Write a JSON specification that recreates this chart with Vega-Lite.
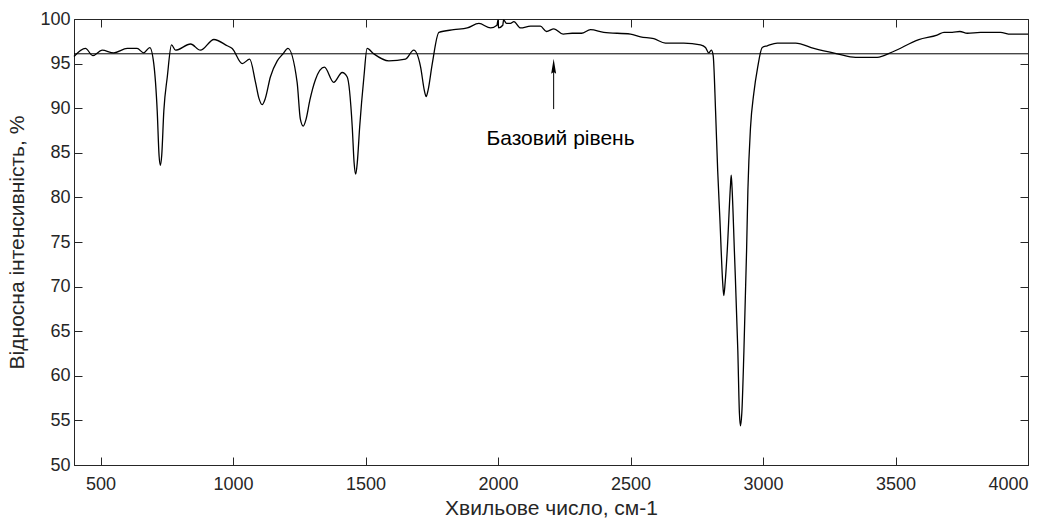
{
  "$schema": "https://vega.github.io/schema/vega-lite/v6.json",
  "width": 954,
  "height": 446,
  "autosize": {"type": "none"},
  "padding": {"left": 74, "top": 19, "right": 28, "bottom": 56},
  "background": "white",
  "config": {
    "font": "Liberation Sans",
    "view": {"stroke": "#262626", "strokeWidth": 1},
    "axis": {
      "grid": false,
      "domainColor": "#262626",
      "tickColor": "#262626",
      "labelColor": "#262626",
      "titleColor": "#262626",
      "labelFont": "Liberation Sans",
      "titleFont": "Liberation Sans",
      "labelFontSize": 18,
      "titleFontSize": 21,
      "titleFontWeight": "normal",
      "tickSize": -8,
      "tickWidth": 1,
      "domainWidth": 1
    }
  },
  "datasets": {
    "spectrum": [
      {"w": 400, "v": 95.8}, {"w": 443, "v": 96.7}, {"w": 471, "v": 95.9}, {"w": 506, "v": 96.5},
      {"w": 550, "v": 96.2}, {"w": 601, "v": 96.7}, {"w": 638, "v": 96.7}, {"w": 663, "v": 96.2},
      {"w": 686, "v": 96.8}, {"w": 701, "v": 95.0}, {"w": 714, "v": 89.7}, {"w": 721, "v": 84.7}, {"w": 726, "v": 83.6},
      {"w": 731, "v": 84.7}, {"w": 739, "v": 89.7}, {"w": 752, "v": 93.5}, {"w": 768, "v": 97.1}, {"w": 783, "v": 96.5},
      {"w": 840, "v": 97.2}, {"w": 877, "v": 96.5}, {"w": 928, "v": 97.7}, {"w": 978, "v": 97.0},
      {"w": 997, "v": 96.7}, {"w": 1035, "v": 95.0}, {"w": 1063, "v": 95.5}, {"w": 1085, "v": 92.9},
      {"w": 1098, "v": 91.1}, {"w": 1110, "v": 90.4}, {"w": 1122, "v": 91.1}, {"w": 1141, "v": 93.5}, {"w": 1167, "v": 95.3}, {"w": 1189, "v": 96.1},
      {"w": 1207, "v": 96.7}, {"w": 1242, "v": 92.9}, {"w": 1254, "v": 88.8}, {"w": 1265, "v": 88.0}, {"w": 1276, "v": 88.8}, {"w": 1290, "v": 90.9},
      {"w": 1311, "v": 93.2}, {"w": 1345, "v": 94.6}, {"w": 1380, "v": 92.9}, {"w": 1412, "v": 94.0},
      {"w": 1431, "v": 93.5}, {"w": 1450, "v": 87.9}, {"w": 1457, "v": 83.9}, {"w": 1463, "v": 82.6}, {"w": 1469, "v": 83.9}, {"w": 1478, "v": 87.9},
      {"w": 1494, "v": 93.5}, {"w": 1506, "v": 96.7}, {"w": 1531, "v": 96.1}, {"w": 1588, "v": 95.3},
      {"w": 1651, "v": 95.5}, {"w": 1682, "v": 96.5}, {"w": 1708, "v": 94.6}, {"w": 1722, "v": 92.0}, {"w": 1729, "v": 91.3},
      {"w": 1736, "v": 92.0}, {"w": 1752, "v": 95.0}, {"w": 1777, "v": 98.5}, {"w": 1833, "v": 98.8}, {"w": 1884, "v": 99.0},
      {"w": 1928, "v": 99.5}, {"w": 1972, "v": 99.0}, {"w": 1996, "v": 99.3}, {"w": 2000, "v": 99.9},
      {"w": 2002, "v": 99.0}, {"w": 2018, "v": 99.3}, {"w": 2021, "v": 99.9}, {"w": 2032, "v": 99.5},
      {"w": 2047, "v": 99.5}, {"w": 2060, "v": 99.7}, {"w": 2085, "v": 99.0}, {"w": 2123, "v": 99.2},
      {"w": 2160, "v": 99.2}, {"w": 2183, "v": 98.6}, {"w": 2211, "v": 98.9}, {"w": 2246, "v": 98.3},
      {"w": 2280, "v": 98.4}, {"w": 2315, "v": 98.4}, {"w": 2349, "v": 98.8}, {"w": 2399, "v": 98.5},
      {"w": 2500, "v": 98.3}, {"w": 2538, "v": 98.0}, {"w": 2588, "v": 97.8}, {"w": 2632, "v": 97.3},
      {"w": 2701, "v": 97.3}, {"w": 2764, "v": 97.1}, {"w": 2783, "v": 96.8}, {"w": 2795, "v": 96.2},
      {"w": 2805, "v": 96.5}, {"w": 2812, "v": 95.9}, {"w": 2821, "v": 89.7}, {"w": 2829, "v": 83.0},
      {"w": 2837, "v": 77.8}, {"w": 2848, "v": 70.4}, {"w": 2852, "v": 69.0}, {"w": 2857, "v": 70.4}, {"w": 2865, "v": 74.0},
      {"w": 2877, "v": 81.2}, {"w": 2880, "v": 82.5}, {"w": 2883, "v": 81.2},
      {"w": 2892, "v": 74.0}, {"w": 2905, "v": 62.8}, {"w": 2911, "v": 55.8}, {"w": 2915, "v": 54.4}, {"w": 2920, "v": 55.8}, {"w": 2928, "v": 62.8},
      {"w": 2938, "v": 74.0}, {"w": 2943, "v": 80.8}, {"w": 2953, "v": 87.9}, {"w": 2965, "v": 91.6},
      {"w": 2980, "v": 94.6}, {"w": 2997, "v": 96.8}, {"w": 3016, "v": 97.0}, {"w": 3054, "v": 97.3},
      {"w": 3123, "v": 97.3}, {"w": 3192, "v": 96.7}, {"w": 3280, "v": 96.1}, {"w": 3349, "v": 95.7},
      {"w": 3431, "v": 95.7}, {"w": 3488, "v": 96.3}, {"w": 3588, "v": 97.7}, {"w": 3657, "v": 98.2},
      {"w": 3683, "v": 98.5}, {"w": 3714, "v": 98.5}, {"w": 3743, "v": 98.6}, {"w": 3771, "v": 98.4},
      {"w": 3821, "v": 98.5}, {"w": 3896, "v": 98.5}, {"w": 3934, "v": 98.3}, {"w": 4000, "v": 98.3}
    ],
    "baseline": [{"v": 96.1}],
    "arrow": [{"w": 2210, "v1": 89.9, "v2": 94.2, "head": 94.7, "label": "Базовий рівень", "tv": 86.5, "tw": 2236}]
  },
  "resolve": {"axis": {"x": "independent", "y": "independent"}},
  "layer": [
    {
      "data": {"name": "spectrum"},
      "mark": {"type": "line", "color": "black", "strokeWidth": 1.3, "interpolate": "monotone"},
      "encoding": {
        "x": {"field": "w", "type": "quantitative",
              "scale": {"domain": [400, 4000], "nice": false, "zero": false},
              "axis": {"orient": "bottom", "values": [500, 1000, 1500, 2000, 2500, 3000, 3500, 4000], "format": "d",
                       "title": "Хвильове число, см-1", "labelPadding": 18, "titlePadding": 4}},
        "y": {"field": "v", "type": "quantitative",
              "scale": {"domain": [50, 100], "nice": false, "zero": false},
              "axis": {"orient": "left", "values": [50, 55, 60, 65, 70, 75, 80, 85, 90, 95, 100], "format": "d",
                       "title": "Відносна інтенсивність, %", "labelPadding": 12, "titlePadding": 12}}
      }
    },
    {
      "data": {"name": "baseline"},
      "mark": {"type": "rule", "color": "black", "strokeWidth": 1},
      "encoding": {
        "y": {"field": "v", "type": "quantitative", "axis": null}
      }
    },
    {
      "data": {"name": "arrow"},
      "mark": {"type": "rule", "color": "black", "strokeWidth": 1},
      "encoding": {
        "x": {"field": "w", "type": "quantitative",
              "axis": {"orient": "top", "values": [500, 1000, 1500, 2000, 2500, 3000, 3500, 4000],
                       "labels": false, "title": null, "domain": false}},
        "y": {"field": "v1", "type": "quantitative",
              "axis": {"orient": "right", "values": [50, 55, 60, 65, 70, 75, 80, 85, 90, 95, 100],
                       "labels": false, "title": null, "domain": false}},
        "y2": {"field": "v2"}
      }
    },
    {
      "data": {"name": "arrow"},
      "mark": {"type": "point", "shape": "M0,-1L0.33,1L0,0.75L-0.33,1Z", "filled": true, "color": "black", "opacity": 1, "size": 225},
      "encoding": {
        "x": {"field": "w", "type": "quantitative", "axis": null},
        "y": {"field": "head", "type": "quantitative", "axis": null}
      }
    },
    {
      "data": {"name": "arrow"},
      "mark": {"type": "text", "font": "Liberation Sans", "fontSize": 21, "color": "black", "align": "center", "baseline": "middle"},
      "encoding": {
        "x": {"field": "tw", "type": "quantitative", "axis": null},
        "y": {"field": "tv", "type": "quantitative", "axis": null},
        "text": {"field": "label"}
      }
    }
  ]
}
